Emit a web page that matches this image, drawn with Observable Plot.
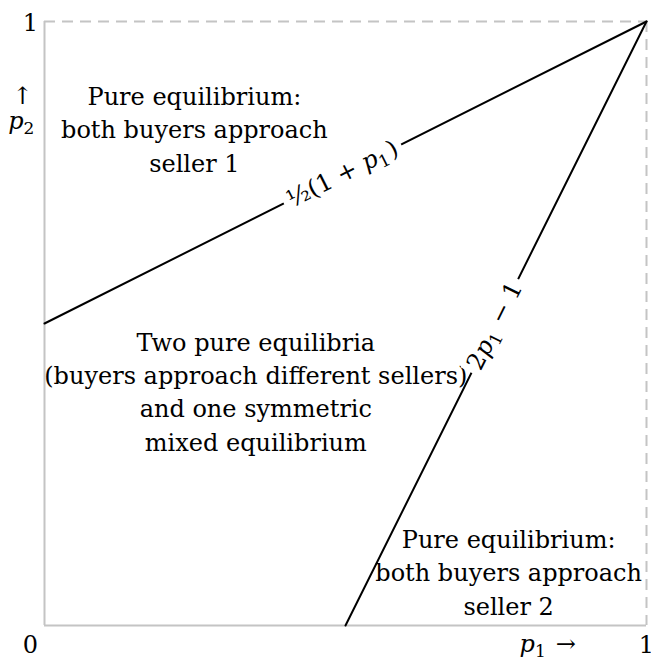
<!DOCTYPE html>
<html>
<head>
<meta charset="utf-8">
<script src="https://cdn.jsdelivr.net/npm/d3@7"></script>
<script src="https://cdn.jsdelivr.net/npm/@observablehq/plot@0.6"></script>
<style>
  body { margin: 0; background: #fff; }
  svg { display: block; }
</style>
</head>
<body>
<div id="chart"></div>
<script>
// Equilibrium regions in the (p1, p2) price square.
const W = 651, H = 661;
const margin = {top: 21, right: 5, bottom: 36, left: 44};
const FONT = "'DejaVu Serif', 'Liberation Serif', serif";
const FS = 24;

// Boundary lines: p2 = (1 + p1)/2 and p2 = 2 p1 - 1
const upperBoundary = [{p1: 0, p2: 0.5}, {p1: 1, p2: 1}];
const lowerBoundary = [{p1: 0.5, p2: 0}, {p1: 1, p2: 1}];

// Region descriptions
const regionText = [
  "Pure equilibrium:\nboth buyers approach\nseller 1",
  "Two pure equilibria\n(buyers approach different sellers)\nand one symmetric\nmixed equilibrium",
  "Pure equilibrium:\nboth buyers approach\nseller 2"
];
const regionP1 = [0.249, 0.351, 0.771];
const regionP2 = [0.824, 0.390, 0.0906];

// Formula labels sitting on the boundary lines
const formulaText = ["½(1 + p1)", "2p1 − 1"];
const formulaP1 = [0.495, 0.748];
const formulaP2 = [0.7475, 0.496];
const formulaSlope = [0.5, 2];

// Corner tick labels
const tickText = ["0", "1", "1"];
const tickP1 = [0, 0, 1];
const tickP2 = [0, 1, 0];
const tickDx = [-14, -14, 0];
const tickDy = [20, 2, 20];

// Axis names
const axisText = ["p1 →", "↑", "p2"];
const axisP1 = [0.836, 0, 0];
const axisP2 = [0, 0.876, 0.834];
const axisDx = [0, -22, -22];
const axisDy = [19, 0, 0];

const innerW = W - margin.left - margin.right;
const innerH = H - margin.top - margin.bottom;
const angle = s => -Math.atan(s * innerH / innerW) * 180 / Math.PI;

const regions = regionText.map((t, i) => ({t, p1: regionP1[i], p2: regionP2[i]}));
const formulas = formulaText.map((t, i) => ({t, p1: formulaP1[i], p2: formulaP2[i], r: angle(formulaSlope[i])}));
const ticks = tickText.map((t, i) => ({t, p1: tickP1[i], p2: tickP2[i], dx: tickDx[i], dy: tickDy[i]}));
const axes = axisText.map((t, i) => ({t, p1: axisP1[i], p2: axisP2[i], dx: axisDx[i], dy: axisDy[i]}));

const frame = {stroke: "#c4c4c4", strokeWidth: 2};
// one text mark per offset label, since dx/dy are constants
const offsetLabel = d => Plot.text([d], {x: "p1", y: "p2", text: "t", dx: d.dx, dy: d.dy, fontSize: FS, fill: "#000"});

const chart = Plot.plot({
  width: W,
  height: H,
  marginTop: margin.top,
  marginRight: margin.right,
  marginBottom: margin.bottom,
  marginLeft: margin.left,
  x: {domain: [0, 1], axis: null},
  y: {domain: [0, 1], axis: null},
  style: {fontFamily: FONT, fontSize: FS + "px", color: "#000", background: "#fff"},
  marks: [
    // frame: solid on the axes, dashed at p = 1
    Plot.ruleX([0], frame),
    Plot.ruleY([0], frame),
    Plot.ruleX([1], {...frame, strokeDasharray: "11,7"}),
    Plot.ruleY([1], {...frame, strokeDasharray: "11,7"}),
    Plot.line(upperBoundary, {x: "p1", y: "p2", stroke: "#000", strokeWidth: 2}),
    Plot.line(lowerBoundary, {x: "p1", y: "p2", stroke: "#000", strokeWidth: 2}),
    Plot.text(regions, {x: "p1", y: "p2", text: "t", fontSize: FS, lineHeight: 1.39, fill: "#000", textAnchor: "middle"}),
    Plot.text(formulas, {x: "p1", y: "p2", text: "t", rotate: "r", fontSize: FS, fill: "#000"}),
    ...ticks.map(offsetLabel),
    ...axes.map(offsetLabel)
  ]
});

document.getElementById("chart").append(chart);

// Typeset variable names: italic p with a lowered subscript digit
const svg = d3.select(chart);
svg.selectAll("text").each(function() {
  if (this.querySelector("tspan")) return;
  const el = d3.select(this);
  const s = el.text();
  if (!/p[12]/.test(s)) return;
  el.text(null);
  s.split(/(p[12])/).forEach(part => {
    if (!part) return;
    const m = part.match(/^p([12])$/);
    if (m) {
      el.append("tspan").attr("font-style", "italic").text("p");
      el.append("tspan").attr("font-size", Math.round(FS * 0.72) + "px").attr("dy", 5).text(m[1]);
      el.append("tspan").attr("dy", -5).text("\u200a");
    } else {
      el.append("tspan").text(part);
    }
  });
});

// Clear the boundary line behind the rotated formula labels
svg.selectAll("text").filter(function() {
  return /rotate/.test(this.getAttribute("transform") || "");
}).each(function() {
  const b = this.getBBox();
  const pad = 5;
  d3.select(this.parentNode).insert("rect", () => this)
    .attr("transform", this.getAttribute("transform"))
    .attr("x", b.x - pad).attr("y", b.y + 2)
    .attr("width", b.width + 2 * pad).attr("height", b.height - 4)
    .attr("fill", "#fff").attr("stroke", "none");
});
</script>
</body>
</html>
